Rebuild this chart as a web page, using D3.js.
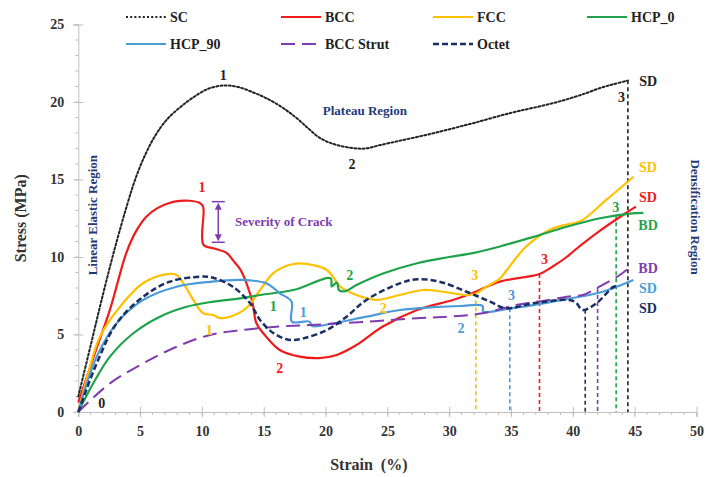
<!DOCTYPE html>
<html><head><meta charset="utf-8">
<script src="https://cdn.jsdelivr.net/npm/d3@7/dist/d3.min.js"></script>
<style>
body{margin:0;background:#fff}
text{font-family:"Liberation Serif","Times New Roman",serif;font-weight:bold}
</style></head>
<body><svg id="c" width="705" height="477"></svg>
<script>
// ---- data (strain %, stress MPa) ----
const xTicks = [0,5,10,15,20,25,30,35,40,45,50];
const yTicks = [0,5,10,15,20,25];

const SC = [[0,1.0],[1,4.3],[2,7.6],[3,10.7],[4,13.5],[4.6,15.0],[5.3,16.4],[6.2,17.8],[7.2,18.9],[8.3,19.7],[9.3,20.3],[10.5,20.85],[11.8,21.07],[13,20.95],[14.2,20.6],[15.2,20.25],[16.4,19.7],[17.6,19.0],[18.6,18.3],[19.5,17.7],[20.6,17.3],[22.0,17.05],[23.2,17.0],[24.3,17.2],[26,17.5],[28,17.85],[29.8,18.2],[32,18.65],[35,19.3],[37.2,19.7],[39.2,20.1],[41,20.55],[42.2,20.9],[43.3,21.15],[44.45,21.38]];
const BCC = [[0,0.6],[1.3,3.7],[2.56,6.6],[3.9,10.3],[4.7,11.7],[5.5,12.6],[6.4,13.15],[7.36,13.48],[8.2,13.62],[9.0,13.63],[9.8,13.5],[10.1,13.25],[10.12,10.8],[11.0,10.55],[12.0,10.26],[12.5,9.8],[13.1,9.2],[13.6,8.32],[14.1,7.03],[14.4,5.74],[15.2,4.86],[16.3,4.0],[17.9,3.57],[19.5,3.48],[20.9,3.68],[22.5,4.32],[24.6,5.5],[27.4,6.58],[30.3,7.23],[31.9,7.68],[34.1,8.41],[37.3,8.9],[38.4,9.4],[39.5,10.0],[40.0,10.34],[42.2,11.7],[44.3,12.84],[45.1,13.25]];
const FCC = [[0,0],[0.8,2.5],[1.75,4.86],[3.37,6.79],[5.25,8.32],[7.15,8.9],[7.95,8.84],[8.49,8.32],[9.3,7.23],[10.1,6.37],[10.9,6.26],[11.45,6.06],[12.26,6.15],[13.6,6.71],[14.7,7.87],[15.8,8.97],[17.4,9.55],[19.0,9.48],[20.1,9.16],[20.9,8.39],[21.2,8.08],[22.5,7.55],[24.1,7.23],[26.0,7.55],[27.9,7.87],[29.5,7.76],[31.4,7.55],[32.2,7.66],[33.0,8.08],[34.1,8.6],[34.6,9.1],[36.2,10.66],[38.1,11.74],[39.5,12.1],[40.6,12.3],[42.7,13.68],[44.9,15.18]];
const HCP_0 = [[0,0],[1.21,1.85],[2.56,3.57],[4.45,5.08],[6.6,6.15],[8.76,6.79],[10.9,7.12],[13.1,7.33],[14.7,7.55],[17.4,7.87],[20.4,8.63],[20.5,8.1],[20.9,8.35],[21.1,7.85],[21.6,7.8],[22.5,8.19],[24.7,8.95],[27.4,9.6],[30.0,10.0],[31.9,10.25],[34.1,10.68],[36.8,11.3],[39.5,11.95],[42.2,12.5],[44.6,12.8],[45.7,12.85]];
const HCP_90 = [[0,0],[1.49,3.57],[3.1,5.72],[5.25,7.23],[7.95,8.08],[10.65,8.4],[13.3,8.52],[15.2,8.3],[16.3,7.66],[17.25,7.12],[17.27,5.83],[18.7,5.83],[18.9,5.55],[20.6,5.72],[23.3,6.15],[26.0,6.58],[28.7,6.76],[30.9,6.84],[32.7,6.84],[32.75,6.47],[34.9,6.69],[36.8,6.9],[39.5,7.29],[42.2,7.71],[44.9,8.52]];
const BCC_Strut = [[0,0],[2.56,1.85],[5.25,3.14],[7.95,4.21],[10.65,4.97],[13.3,5.29],[16.0,5.5],[18.7,5.61],[23.3,5.82],[27.4,6.05],[30.0,6.15],[32.7,6.37],[35.4,6.9],[38.1,7.23],[39.5,7.44],[40.8,7.55],[41.9,7.98],[43.8,8.84],[44.6,9.35]];
const Octet = [[0,0],[1.49,3.14],[3.1,5.72],[5.25,7.44],[7.41,8.41],[9.84,8.73],[10.9,8.66],[12.5,8.08],[13.9,7.01],[14.7,5.94],[15.8,5.08],[17.1,4.65],[18.2,4.75],[20.1,5.29],[21.7,6.15],[23.3,7.23],[26.0,8.3],[27.4,8.56],[29.2,8.41],[31.4,7.76],[33.3,7.12],[34.6,6.69],[36.8,7.01],[39.5,7.23],[40.2,7.1],[40.8,6.58],[41.9,7.01],[43.3,8.08],[43.6,8.1]];

const seriesNames = ["SC","BCC","FCC","HCP_0","HCP_90","BCC Strut","Octet"];
const seriesData = [SC,BCC,FCC,HCP_0,HCP_90,BCC_Strut,Octet];
const seriesColors = ["#222222","#EE1C1C","#FFC000","#1FA34A","#4C9BD9","#7E3CB0","#1B2F66"];
const seriesDash = ["2,2.2",null,null,null,null,"14,7","6,3"];
const seriesWidth = [2,2.2,2.2,2.2,2.2,2,2.5];

// densification markers: strain, stress, series index
const markStrain = [32.15,34.9,37.3,41.0,42.0,43.5,44.45];
const markStress = [7.66,6.69,8.9,6.6,8.0,12.7,21.4];
const markSeries = [2,4,1,6,5,3,0];

// point labels: text, strain, stress, series index
const labelText = ["0","1","2","3","SD","1","2","3","SD","1","2","3","SD","1","2","3","BD","1","2","3","SD","BD","SD"];
const labelStrain = [1.9,11.72,22.14,43.93,46.1,10.0,16.3,37.7,46.08,10.6,24.66,32.07,46.08,15.76,21.96,43.47,46.08,18.19,30.96,35.04,46.08,46.08,46.08];
const labelStress = [0.56,21.74,16.0,20.34,21.37,14.54,2.82,9.88,13.89,5.29,6.69,8.84,15.83,6.84,8.84,13.21,12.06,6.47,5.4,7.55,7.98,9.27,6.69];
const labelSeries = [0,0,0,0,0,1,1,1,1,2,2,2,2,3,3,3,3,4,4,4,4,5,6];

// ---- drawing ----
const svg = d3.select("#c");
const x = d3.scaleLinear().domain([0,50]).range([78.3,696.5]);
const y = d3.scaleLinear().domain([0,25]).range([412,24.5]);
const axisCol = "#BFBFBF";

// minor ticks
const g = svg.append("g");
g.selectAll(".ymin").data(d3.range(0,26)).join("line")
  .attr("x1",x(0)-3).attr("x2",x(0)).attr("y1",d=>y(d)).attr("y2",d=>y(d)).attr("stroke",axisCol);
g.selectAll(".xmin").data(d3.range(0,51)).join("line")
  .attr("x1",d=>x(d)).attr("x2",d=>x(d)).attr("y1",y(0)).attr("y2",y(0)+3).attr("stroke",axisCol);

const ya = svg.append("g").attr("transform",`translate(${x(0)},0)`)
  .call(d3.axisLeft(y).tickValues(yTicks).tickSize(5).tickPadding(9).tickFormat(d3.format("d")));
ya.selectAll(".tick line").attr("x2",-5).attr("x1",5);
const xa = svg.append("g").attr("transform",`translate(0,${y(0)})`)
  .call(d3.axisBottom(x).tickValues(xTicks).tickSize(5).tickPadding(9).tickFormat(d3.format("d")));
xa.selectAll(".tick line").attr("y1",-5).attr("y2",5);
[ya,xa].forEach(a=>{
  a.select(".domain").attr("stroke",axisCol);
  a.selectAll(".tick line").attr("stroke",axisCol);
  a.selectAll(".tick text").attr("font-family","Liberation Serif").attr("font-weight","bold").attr("font-size",14).attr("fill","#333");
});

// axis titles
svg.append("text").attr("transform",`translate(26,${y(12.5)}) rotate(-90)`).attr("text-anchor","middle")
  .attr("font-size",16).attr("fill","#333").text("Stress (MPa)");
svg.append("text").attr("x",x(23.5)).attr("y",470).attr("text-anchor","middle")
  .attr("font-size",16).attr("fill","#333").attr("xml:space","preserve").text("Strain  (%)");

// densification vertical dashed lines
svg.selectAll(".vm").data(markStrain).join("line")
  .attr("x1",d=>x(d)).attr("x2",d=>x(d)).attr("y1",(d,i)=>y(markStress[i])).attr("y2",y(0))
  .attr("stroke",(d,i)=>seriesColors[markSeries[i]]).attr("stroke-width",1.6).attr("stroke-dasharray","4,3");

// curves
const line = d3.line().x(d=>x(d[0])).y(d=>y(d[1])).curve(d3.curveCatmullRom.alpha(0.5));
seriesData.forEach((s,i)=>{
  svg.append("path").datum(s).attr("d",line).attr("fill","none")
    .attr("stroke",seriesColors[i]).attr("stroke-width",seriesWidth[i])
    .attr("stroke-dasharray",seriesDash[i]).attr("stroke-linecap",i===0?"round":"butt");
});

// point labels
svg.selectAll(".pl").data(labelText).join("text")
  .attr("x",(d,i)=>x(labelStrain[i])).attr("y",(d,i)=>y(labelStress[i])).attr("dy","0.35em")
  .attr("text-anchor","middle").attr("font-size",14)
  .attr("fill",(d,i)=>seriesColors[labelSeries[i]]).text(d=>d);

// region annotations
const navy = "#1F3A7A";
svg.append("text").attr("x",x(23.18)).attr("y",y(19.44)).attr("dy","0.35em").attr("text-anchor","middle")
  .attr("font-size",13).attr("fill",navy).text("Plateau Region");
svg.append("text").attr("transform",`translate(${x(1.19)+4},${y(12.7)}) rotate(-90)`).attr("text-anchor","middle")
  .attr("font-size",13).attr("fill",navy).text("Linear Elastic Region");
svg.append("text").attr("transform",`translate(${x(49.85)-4},${y(12.58)}) rotate(90)`).attr("text-anchor","middle")
  .attr("font-size",13).attr("fill",navy).text("Densification Region");
const purp = "#7E3CB0";
svg.append("text").attr("x",x(12.67)).attr("y",y(12.28)).attr("dy","0.35em")
  .attr("font-size",13).attr("fill",purp).text("Severity of Crack");
// severity arrow
const ax = x(11.32), ya1 = y(13.57), ya2 = y(10.95);
svg.append("line").attr("x1",ax).attr("x2",ax).attr("y1",ya1+4).attr("y2",ya2-4).attr("stroke",purp).attr("stroke-width",1.5);
[ya1,ya2].forEach(v=>svg.append("line").attr("x1",ax-6.5).attr("x2",ax+6.5).attr("y1",v).attr("y2",v).attr("stroke",purp).attr("stroke-width",1.5));
svg.append("path").attr("d",`M${ax},${ya1+1}l-3.5,7h7z`).attr("fill",purp);
svg.append("path").attr("d",`M${ax},${ya2-1}l-3.5,-7h7z`).attr("fill",purp);

// legend
const legX = [126,281,433,587,126,281,433];
const legY = [17,17,17,17,44,44,44];
seriesNames.forEach((n,i)=>{
  svg.append("line").attr("x1",legX[i]).attr("x2",legX[i]+40).attr("y1",legY[i]).attr("y2",legY[i])
    .attr("stroke",seriesColors[i]).attr("stroke-width",seriesWidth[i]).attr("stroke-dasharray",seriesDash[i]);
  svg.append("text").attr("x",legX[i]+44).attr("y",legY[i]).attr("dy","0.35em").attr("font-size",14)
    .attr("fill","#222").text(n);
});
</script></body></html>
